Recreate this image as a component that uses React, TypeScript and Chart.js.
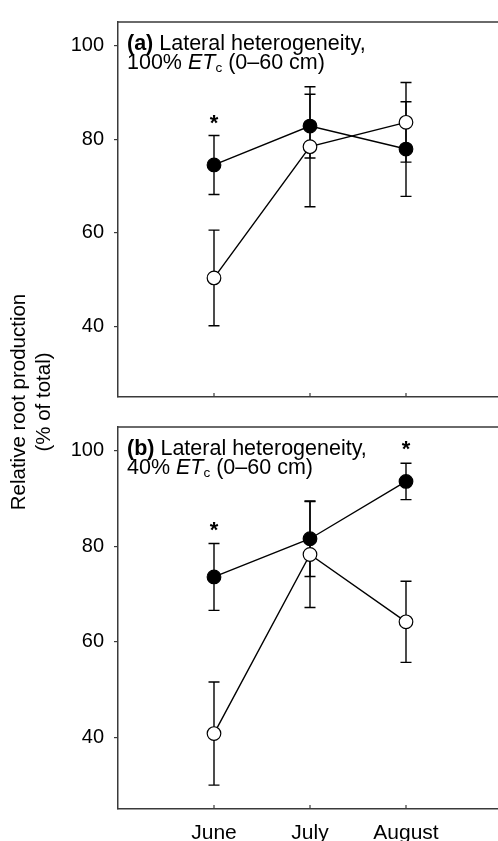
import React, { useEffect, useRef } from "react";
import { Chart, registerables } from "chart.js";
Chart.register(...registerables);

// ---------- data ----------
const months = ["June", "July", "August"];
const monthIdx = [0, 1, 2];
const yTickValues = [40, 60, 80, 100];

// Panel (a): 100% ETc
const aFilled = [74.5, 82.8, 77.9];
const aFilledErr = [6.3, 6.8, 10.1];
const aOpen = [50.4, 78.4, 83.6];
const aOpenErr = [10.2, 12.8, 8.5];
const aStarIdx = [0];
const aStarVal = [84.2];

// Panel (b): 40% ETc
const bFilled = [73.6, 81.6, 93.6];
const bFilledErr = [7.0, 7.9, 3.8];
const bOpen = [40.8, 78.3, 64.2];
const bOpenErr = [10.8, 11.1, 8.5];
const bStarIdx = [0, 2];
const bStarVal = [84.2, 101.2];

const yTitle = ["Relative root production", "(% of total)"];

const FONT = '"Liberation Sans", Arial, Helvetica, sans-serif';
const AXIS = "#3a3a3a";

type Run = { t: string; bold?: boolean; italic?: boolean; sub?: boolean };

function panelPlugin(cfg: {
  errors: number[][];
  values: number[][];
  starIdx: number[];
  starVal: number[];
  lines: Run[][];
  drawYTitle: boolean;
}) {
  return {
    id: "panelDecor",
    beforeDatasetsDraw(chart: any) {
      const { ctx, scales } = chart;
      const xs = scales.x, ys = scales.y;
      ctx.save();
      ctx.strokeStyle = "#000";
      ctx.lineWidth = 1.4;
      const cap = 5.5;
      cfg.values.forEach((vals, s) => {
        vals.forEach((v, i) => {
          const e = cfg.errors[s][i];
          const x = xs.getPixelForValue(monthIdx[i]);
          const yt = ys.getPixelForValue(v + e);
          const yb = ys.getPixelForValue(v - e);
          ctx.beginPath();
          ctx.moveTo(x, yt);
          ctx.lineTo(x, yb);
          ctx.moveTo(x - cap, yt);
          ctx.lineTo(x + cap, yt);
          ctx.moveTo(x - cap, yb);
          ctx.lineTo(x + cap, yb);
          ctx.stroke();
        });
      });
      ctx.restore();
    },
    afterDraw(chart: any) {
      const { ctx, chartArea, scales } = chart;
      const xs = scales.x, ys = scales.y;
      ctx.save();
      // frame top and right
      ctx.strokeStyle = AXIS;
      ctx.lineWidth = 1.5;
      ctx.beginPath();
      ctx.moveTo(chartArea.left, chartArea.top);
      ctx.lineTo(chartArea.right, chartArea.top);
      ctx.lineTo(chartArea.right, chartArea.bottom);
      ctx.stroke();
      // inward x ticks
      ctx.lineWidth = 1.2;
      monthIdx.forEach((m) => {
        const x = xs.getPixelForValue(m);
        ctx.beginPath();
        ctx.moveTo(x, chartArea.bottom);
        ctx.lineTo(x, chartArea.bottom - 4);
        ctx.stroke();
      });
      // asterisks (glyph centred on the value)
      ctx.fillStyle = "#000";
      ctx.textAlign = "center";
      ctx.textBaseline = "alphabetic";
      ctx.font = `bold 22px ${FONT}`;
      const sm = ctx.measureText("*");
      const starShift = (sm.actualBoundingBoxAscent - sm.actualBoundingBoxDescent) / 2;
      cfg.starIdx.forEach((m, i) => {
        const x = xs.getPixelForValue(m);
        const y = ys.getPixelForValue(cfg.starVal[i]);
        ctx.fillText("*", x, y + starShift);
      });
      // panel text
      ctx.textAlign = "left";
      const base = [28, 46.5];
      cfg.lines.forEach((runs, li) => {
        let x = chartArea.left + 9;
        const y = chartArea.top + base[li];
        runs.forEach((r) => {
          const size = r.sub ? 13.5 : 21.5;
          ctx.font = `${r.italic ? "italic " : ""}${r.bold ? "bold " : ""}${size}px ${FONT}`;
          ctx.fillText(r.t, x, r.sub ? y + 3 : y);
          x += ctx.measureText(r.t).width;
        });
      });
      // y title
      if (cfg.drawYTitle) {
        ctx.font = `20.5px ${FONT}`;
        ctx.textAlign = "center";
        const xsTitle = [25, 50];
        yTitle.forEach((t, i) => {
          ctx.save();
          ctx.translate(xsTitle[i], 402);
          ctx.rotate(-Math.PI / 2);
          ctx.fillText(t, 0, 0);
          ctx.restore();
        });
      }
      ctx.restore();
    },
  };
}

function makeConfig(opts: {
  filled: number[];
  open: number[];
  filledErr: number[];
  openErr: number[];
  starIdx: number[];
  starVal: number[];
  lines: Run[][];
  padTop: number;
  xHeight: number;
  showX: boolean;
  drawYTitle: boolean;
}): any {
  const font = { family: FONT, size: 20 };
  return {
    type: "line",
    data: {
      datasets: [
        {
          label: "filled",
          data: opts.filled.map((v, i) => ({ x: monthIdx[i], y: v })),
          borderColor: "#000",
          borderWidth: 1.4,
          pointRadius: 6.8,
          pointBackgroundColor: "#000",
          pointBorderColor: "#000",
          pointBorderWidth: 1.2,
          fill: false,
          tension: 0,
        },
        {
          label: "open",
          data: opts.open.map((v, i) => ({ x: monthIdx[i], y: v })),
          borderColor: "#000",
          borderWidth: 1.4,
          pointRadius: 6.8,
          pointBackgroundColor: "#fff",
          pointBorderColor: "#000",
          pointBorderWidth: 1.2,
          fill: false,
          tension: 0,
        },
      ],
    },
    options: {
      responsive: false,
      animation: false,
      events: [],
      layout: { padding: { top: opts.padTop, right: 7.5, bottom: 0, left: 0 } },
      plugins: { legend: { display: false }, tooltip: { enabled: false } },
      scales: {
        x: {
          type: "linear",
          min: -1,
          max: 3,
          afterBuildTicks: (s: any) => {
            s.ticks = monthIdx.map((v) => ({ value: v }));
          },
          afterFit: (s: any) => {
            s.height = opts.xHeight;
          },
          ticks: {
            display: opts.showX,
            callback: (v: any) => months[v] ?? "",
            font: { family: FONT, size: 21 },
            color: "#000",
            padding: 12,
            maxRotation: 0,
            autoSkip: false,
          },
          grid: { display: true, drawOnChartArea: false, drawTicks: false },
          border: { display: true, color: AXIS, width: 1.5 },
        },
        y: {
          type: "linear",
          min: 25,
          max: 105,
          afterBuildTicks: (s: any) => {
            s.ticks = yTickValues.map((v) => ({ value: v }));
          },
          afterFit: (s: any) => {
            s.width = 118;
          },
          ticks: { font, color: "#000", padding: 10 },
          grid: { drawOnChartArea: false, drawTicks: true, tickLength: 4, color: AXIS, lineWidth: 1.2 },
          border: { display: true, color: AXIS, width: 1.5 },
        },
      },
    },
    plugins: [
      panelPlugin({
        errors: [opts.filledErr, opts.openErr],
        values: [opts.filled, opts.open],
        starIdx: opts.starIdx,
        starVal: opts.starVal,
        lines: opts.lines,
        drawYTitle: opts.drawYTitle,
      }),
    ],
  };
}

export default function App() {
  const refA = useRef<HTMLCanvasElement>(null);
  const refB = useRef<HTMLCanvasElement>(null);

  useEffect(() => {
    const chartA = new Chart(
      refA.current as HTMLCanvasElement,
      makeConfig({
        filled: aFilled,
        open: aOpen,
        filledErr: aFilledErr,
        openErr: aOpenErr,
        starIdx: aStarIdx,
        starVal: aStarVal,
        lines: [
          [{ t: "(a)", bold: true }, { t: " Lateral heterogeneity," }],
          [{ t: "100% " }, { t: "ET", italic: true }, { t: "c", sub: true }, { t: " (0–60 cm)" }],
        ],
        padTop: 13,
        xHeight: 23,
        showX: false,
        drawYTitle: false,
      })
    );
    const chartB = new Chart(
      refB.current as HTMLCanvasElement,
      makeConfig({
        filled: bFilled,
        open: bOpen,
        filledErr: bFilledErr,
        openErr: bOpenErr,
        starIdx: bStarIdx,
        starVal: bStarVal,
        lines: [
          [{ t: "(b)", bold: true }, { t: " Lateral heterogeneity," }],
          [{ t: "40% " }, { t: "ET", italic: true }, { t: "c", sub: true }, { t: " (0–60 cm)" }],
        ],
        padTop: 427,
        xHeight: 32,
        showX: true,
        drawYTitle: true,
      })
    );
    return () => {
      chartA.destroy();
      chartB.destroy();
    };
  }, []);

  return (
    <div
      style={{
        position: "fixed",
        left: 0,
        top: 0,
        width: 498,
        height: 841,
        overflow: "hidden",
        background: "#fff",
      }}
    >
      <canvas
        ref={refA}
        width={510}
        height={420}
        style={{ position: "absolute", left: 0, top: 0, width: 510, height: 420 }}
      />
      <canvas
        ref={refB}
        width={510}
        height={841}
        style={{ position: "absolute", left: 0, top: 0, width: 510, height: 841 }}
      />
    </div>
  );
}
